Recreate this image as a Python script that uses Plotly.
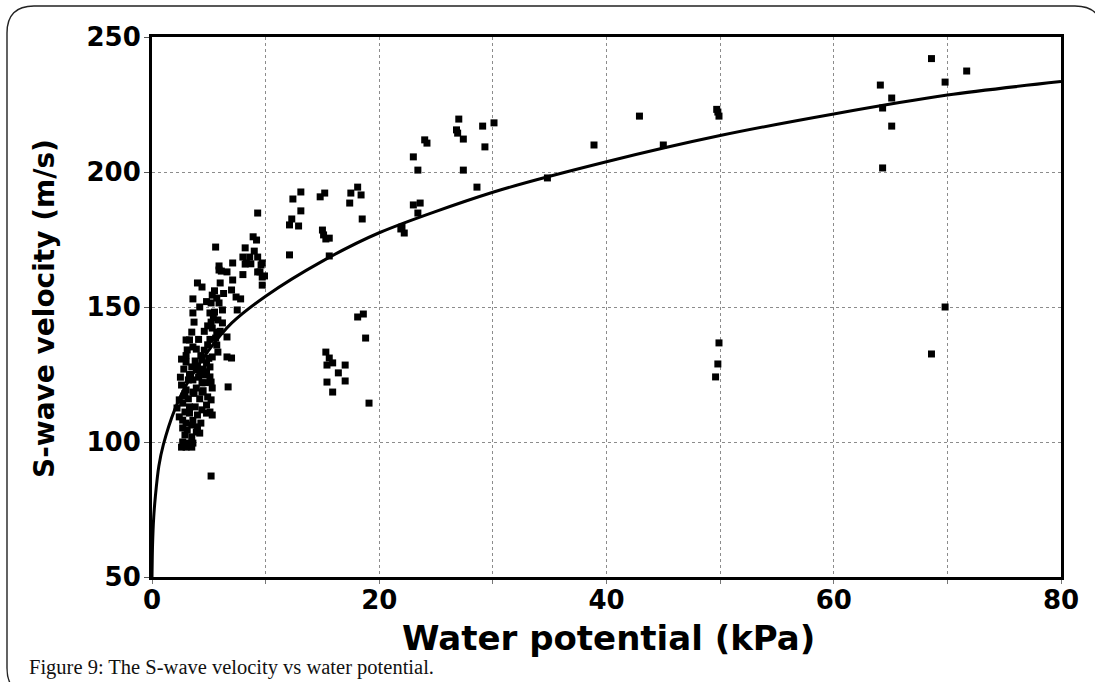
import plotly.graph_objects as go

# ---- data ----
water_potential = [
    68.6, 71.7, 69.8, 64.1, 65.1, 64.3, 65.1, 64.3, 69.8, 68.6,
    38.9, 42.9, 45.0, 49.8, 49.9, 49.7, 49.9, 49.8, 49.6, 34.8,
    27.0, 26.8, 26.9, 27.4, 29.1, 30.1, 29.3, 24.0, 24.2, 23.0, 23.4, 27.4, 28.6,
    23.0, 23.6, 23.4, 22.0, 22.2, 21.9,
    9.3, 12.4, 13.1, 13.1, 12.3, 12.1, 12.9, 12.1,
    14.8, 15.2, 15.0, 15.1, 15.6, 15.3, 15.6,
    17.4, 17.5, 18.1, 18.4, 18.5,
    18.1, 18.6, 18.8, 19.1,
    15.3, 15.6, 15.9, 15.4, 17.0, 16.4, 15.4, 17.0, 15.9,
    # dense cluster
    8.9, 9.2, 5.6, 8.2, 9.0, 8.0, 8.6, 9.3, 7.1, 8.2, 9.6, 5.9, 6.1, 9.3, 9.7,
    5.9, 8.3, 9.7, 9.5, 9.9, 9.7,
    4.0, 4.4, 6.0, 5.3, 5.7, 7.0, 7.4, 7.8, 3.6, 5.2, 5.9, 6.2, 5.5, 5.1, 3.6,
    7.5, 5.8, 5.2, 3.7, 6.2, 5.3, 5.7, 3.5, 3.3, 3.0, 6.6, 5.6, 3.6, 3.9, 3.1,
    5.7, 5.8, 7.0, 6.6, 5.3, 2.6, 3.0, 4.4, 4.8, 5.1, 3.5, 3.9, 4.2, 4.6, 5.1,
    3.3, 3.6, 4.4, 5.2, 5.3, 6.7, 2.6, 3.0, 3.6, 4.4, 4.9, 5.2, 4.8, 4.4, 2.4,
    2.7, 2.2, 2.9, 3.3, 4.0, 4.8, 5.1, 5.3, 2.4, 2.7, 3.0, 3.5, 4.0, 2.7, 3.1,
    3.9, 2.9, 3.5, 4.2, 2.7, 3.1, 3.6, 2.6, 3.0, 3.5, 5.2,
    4.0, 4.3, 4.6, 4.9, 5.1, 3.8, 4.5, 3.2, 3.8, 4.2, 3.9, 4.7, 3.6, 4.3, 2.9,
    3.3, 2.5, 2.8, 3.0, 4.1, 4.6, 4.9, 6.0, 5.4, 4.2, 4.8, 5.5, 6.3, 7.1, 6.6,
    8.0, 8.7, 4.1, 4.5, 3.4, 3.7, 4.8, 5.0, 3.2, 2.8,
]
s_velocity = [
    242.0, 237.4, 233.3, 232.2, 227.4, 223.7, 217.0, 201.5, 150.0, 132.6,
    210.0, 220.7, 210.0, 222.2, 220.7, 223.2, 136.7, 128.9, 124.1, 197.8,
    219.6, 215.6, 214.4, 212.2, 217.0, 218.2, 209.3, 211.9, 210.7, 205.6, 200.7, 200.7, 194.4,
    187.8, 188.5, 184.8, 179.6, 177.4, 178.9,
    184.8, 190.0, 192.6, 185.6, 182.6, 180.4, 180.0, 169.3,
    190.8, 192.2, 178.5, 176.7, 175.5, 175.2, 168.9,
    188.5, 192.2, 194.4, 191.5, 182.6,
    146.3, 147.4, 138.5, 114.4,
    133.3, 131.1, 129.3, 128.5, 128.5, 125.6, 122.2, 122.6, 118.5,
    # dense cluster
    176.0, 174.8, 172.2, 171.9, 170.7, 168.5, 168.5, 168.5, 166.3, 165.9, 165.6, 165.2, 163.3, 163.0, 161.1,
    163.7, 166.3, 166.3, 163.0, 161.5, 158.1,
    158.9, 157.4, 158.9, 154.4, 153.3, 156.3, 153.7, 153.0, 153.0, 151.5, 151.5, 148.9, 148.1, 147.8, 147.8,
    148.9, 145.2, 144.4, 144.4, 144.1, 142.2, 140.7, 140.7, 137.8, 137.8, 138.9, 138.5, 135.2, 134.4, 134.1,
    135.9, 133.3, 131.1, 131.5, 131.5, 130.7, 129.6, 130.4, 129.3, 127.8, 127.8, 126.7, 125.6, 124.8, 124.1,
    124.8, 123.0, 121.9, 122.2, 120.0, 120.4, 121.1, 119.3, 118.5, 118.5, 116.7, 115.6, 113.7, 111.9, 115.6,
    114.4, 112.6, 111.1, 110.7, 110.0, 110.7, 111.1, 110.0, 109.3, 108.1, 107.0, 106.3, 105.6, 105.2, 104.4,
    103.7, 102.6, 101.9, 103.3, 100.0, 99.6, 99.6, 98.1, 98.1, 98.1, 87.4,
    128.0, 132.0, 134.0, 136.0, 138.0, 130.0, 127.0, 116.0, 113.0, 116.0, 120.0, 122.0, 108.0, 107.0, 118.0,
    113.0, 124.0, 127.0, 132.0, 138.0, 141.0, 143.0, 141.0, 146.0, 150.0, 152.0, 156.0, 155.0, 160.0, 163.0,
    162.0, 166.0, 124.0, 119.0, 125.0, 118.0, 126.0, 131.0, 123.0, 117.0,
]

fit_x = [0, 0.05, 0.15, 0.3, 0.6, 1, 2, 3, 5, 7, 10, 15, 20, 30, 40, 50, 60, 70, 80]
fit_y = [50, 62, 72, 80, 91, 99, 112, 121, 134, 144, 154, 167, 177.5, 192.5, 203.8, 213.5, 221.5, 228.5, 233.5]

x_ticks = [0, 10, 20, 30, 40, 50, 60, 70, 80]
x_tick_text = ["0", "", "20", "", "40", "", "60", "", "80"]
y_ticks = [50, 100, 150, 200, 250]

x_title = "Water potential (kPa)"
y_title = "S-wave velocity (m/s)"
caption = "Figure 9: The S-wave velocity vs water potential."

# ---- figure ----
W, H = 1095, 682
L, R, T, B = 152, 34, 37, 105
PW, PH = W - L - R, H - T - B

def px_to_paper_x(px):
    return (px - L) / PW

def px_to_paper_y(py):
    return (H - B - py) / PH

fig = go.Figure()
fig.add_trace(go.Scatter(
    x=water_potential, y=s_velocity, mode="markers",
    marker=dict(symbol="square", size=7, color="black", line=dict(width=0)),
    showlegend=False, hoverinfo="skip"))
fig.add_trace(go.Scatter(
    x=fit_x, y=fit_y, mode="lines",
    line=dict(color="black", width=3, shape="spline", smoothing=0.8),
    showlegend=False, hoverinfo="skip"))

tick_font = dict(family="DejaVu Sans", size=26, color="black", weight="bold")

fig.update_layout(
    width=W, height=H,
    margin=dict(l=L, r=R, t=T, b=B, pad=0),
    paper_bgcolor="white", plot_bgcolor="white",
    xaxis=dict(range=[0, 80], tickvals=x_ticks, ticktext=x_tick_text,
               showgrid=True, gridcolor="#8c8c8c", griddash="dot", gridwidth=1,
               showline=True, linecolor="black", linewidth=3, mirror=True,
               ticks="outside", ticklen=4, tickcolor="#777", tickwidth=1,
               ticklabelstandoff=-6,
               tickfont=tick_font, zeroline=False, automargin=False),
    yaxis=dict(range=[50, 250], tickvals=y_ticks,
               showgrid=True, gridcolor="#8c8c8c", griddash="dot", gridwidth=1,
               showline=True, linecolor="black", linewidth=3, mirror=True,
               ticks="outside", ticklen=5, tickcolor="#555", tickwidth=1,
               ticklabelstandoff=-2,
               tickfont=tick_font, zeroline=False, automargin=False),
)

fig.add_annotation(text=x_title, xref="paper", yref="paper",
                   x=px_to_paper_x(608), y=px_to_paper_y(638),
                   xanchor="center", yanchor="middle", showarrow=False,
                   font=dict(family="DejaVu Sans", size=34, color="black", weight="bold"))
fig.add_annotation(text=y_title, xref="paper", yref="paper",
                   x=px_to_paper_x(44), y=px_to_paper_y(309), textangle=-90,
                   xanchor="center", yanchor="middle", showarrow=False,
                   font=dict(family="DejaVu Sans", size=28, color="black", weight="bold"))
fig.add_annotation(text=caption, xref="paper", yref="paper",
                   x=px_to_paper_x(27), y=px_to_paper_y(667),
                   xanchor="left", yanchor="middle", showarrow=False,
                   font=dict(family="Liberation Serif", size=20.5, color="#111"))

# rounded frame around the figure
fl, ft, fr, fb, rad = 7, 6, 1102, 695, 27
def P(px, py):
    return f"{px_to_paper_x(px):.5f},{px_to_paper_y(py):.5f}"
path = (f"M {P(fl, ft + rad)} Q {P(fl, ft)} {P(fl + rad, ft)} "
        f"L {P(fr - rad, ft)} Q {P(fr, ft)} {P(fr, ft + rad)} "
        f"L {P(fr, fb - rad)} Q {P(fr, fb)} {P(fr - rad, fb)} "
        f"L {P(fl + rad, fb)} Q {P(fl, fb)} {P(fl, fb - rad)} Z")
fig.add_shape(type="path", path=path, xref="paper", yref="paper",
              line=dict(color="#222", width=1.4), layer="below")

fig.write_html("out.html")
